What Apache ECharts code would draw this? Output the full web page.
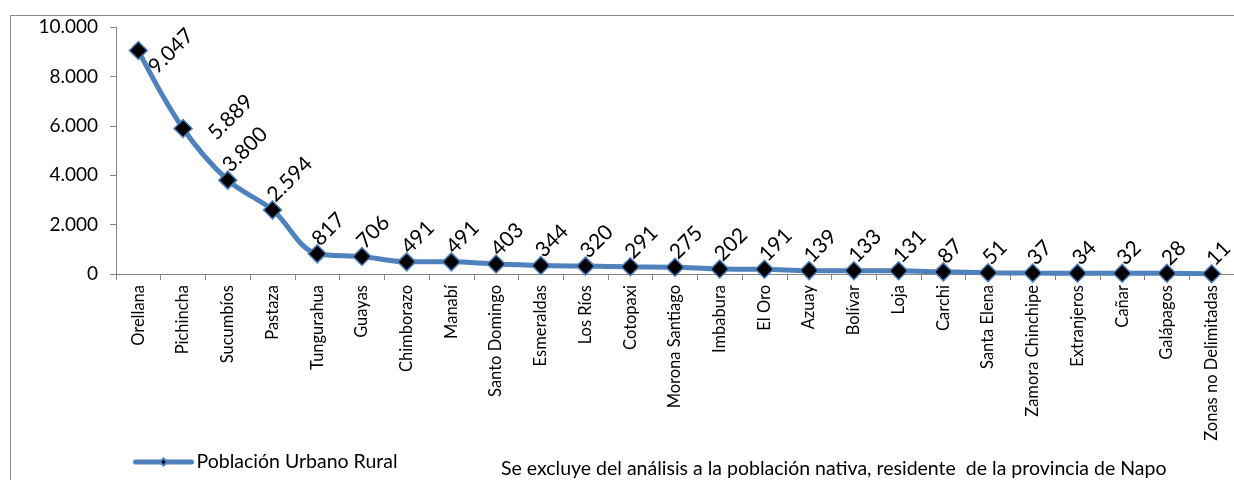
<!DOCTYPE html>
<html><head><meta charset="utf-8">
<script src="https://cdn.jsdelivr.net/npm/echarts@6/dist/echarts.min.js"></script>
<style>html,body{margin:0;padding:0;background:#fff}#c{width:1234px;height:480px}</style>
</head><body><div id="c"></div>
<script>
const categories = ["Orellana","Pichincha","Sucumbíos","Pastaza","Tungurahua","Guayas","Chimborazo","Manabí","Santo Domingo","Esmeraldas","Los Ríos","Cotopaxi","Morona Santiago","Imbabura","El Oro","Azuay","Bolívar","Loja","Carchi","Santa Elena","Zamora Chinchipe","Extranjeros","Cañar","Galápagos","Zonas no Delimitadas"];
const values = [9047,5889,3800,2594,817,706,491,491,403,344,320,291,275,202,191,139,133,131,87,51,37,34,32,28,11];
const yTicks = [0,2000,4000,6000,8000,10000];
const seriesName = "Población Urbano Rural";
const note = "Se excluye del análisis a la población nativa, residente  de la provincia de Napo";

const fmt = v => String(v).replace(/\B(?=(\d{3})+(?!\d))/g, '.');
const FONT = 'Lato, "Open Sans", sans-serif';
// label offsets (in the label's rotated frame) for the two labels Excel moved off the line
const labelOffsetOverride = {0: [-4.2, 34], 1: [14.9, 36.1]};
const seriesData = values.map((v, i) => labelOffsetOverride[i]
  ? {value: v, label: {offset: labelOffsetOverride[i]}}
  : v);

const chart = echarts.init(document.getElementById('c'));
chart.setOption({
  animation: false,
  textStyle: {fontFamily: FONT},
  grid: {left: 116, width: 1129, top: 27, height: 247, containLabel: false},
  legend: {
    left: 133, top: 452, padding: 0, itemWidth: 56, itemHeight: 9, itemGap: 4,
    textStyle: {fontSize: 19.5, color: '#000', fontFamily: FONT},
    lineStyle: {width: 5, cap: 'round', color: '#4F81BD'},
    data: [seriesName]
  },
  graphic: [
    {type: 'rect', shape: {x: 10.5, y: 15.5, width: 1240, height: 480}, style: {fill: 'none', stroke: '#868686', lineWidth: 1}},
    {type: 'text', x: 501, y: 469, style: {text: note, fontSize: 19.5, fill: '#000', fontFamily: FONT, verticalAlign: 'middle'}}
  ],
  xAxis: {
    type: 'category', data: categories, boundaryGap: true,
    axisLine: {lineStyle: {color: '#868686', width: 1}},
    axisTick: {show: true, alignWithLabel: false, length: 6, lineStyle: {color: '#868686'}},
    axisLabel: {rotate: 90, fontSize: 16.5, color: '#000', interval: 0, margin: 11, fontFamily: FONT}
  },
  yAxis: {
    type: 'value', min: yTicks[0], max: yTicks[yTicks.length - 1], interval: yTicks[1] - yTicks[0],
    axisLine: {show: true, lineStyle: {color: '#868686'}},
    axisTick: {show: true, length: 6, lineStyle: {color: '#868686'}},
    splitLine: {show: false},
    axisLabel: {fontSize: 19, color: '#000', margin: 18, formatter: v => fmt(v), fontFamily: FONT}
  },
  series: [{
    name: seriesName, type: 'line', data: seriesData, smooth: 0.35,
    lineStyle: {color: '#4F81BD', width: 5},
    itemStyle: {color: '#000', borderColor: '#4F81BD', borderWidth: 1.5},
    symbol: 'diamond', symbolSize: 18,
    label: {
      show: true, rotate: 45, fontSize: 21, color: '#000', fontFamily: FONT,
      position: 'inside', align: 'left', verticalAlign: 'bottom', offset: [7, 1],
      formatter: p => fmt(p.value)
    }
  }]
});
</script>
</body></html>
